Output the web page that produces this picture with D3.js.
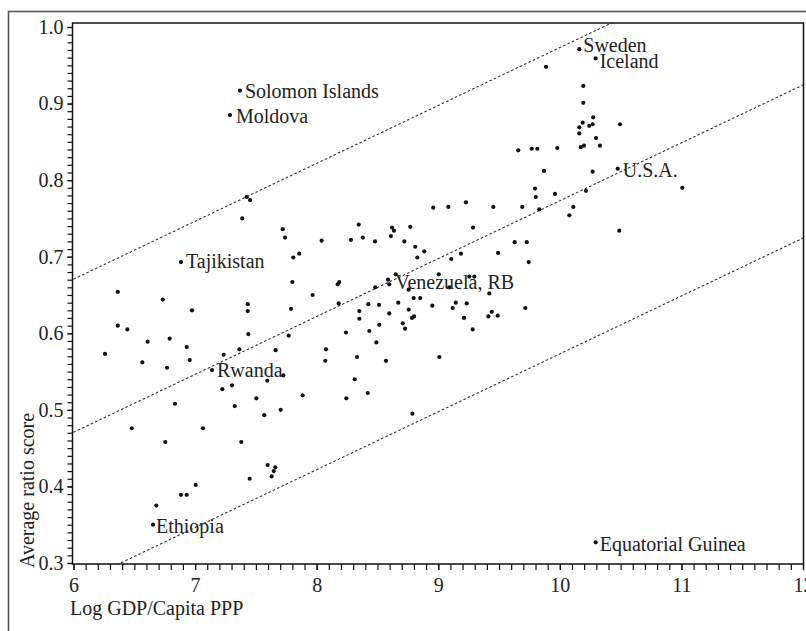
<!DOCTYPE html>
<html>
<head>
<meta charset="utf-8">
<script src="https://cdn.jsdelivr.net/npm/d3@7"></script>
<style>
  html, body { margin: 0; padding: 0; background: #fff; }
  svg { display: block; }
  text { font-family: "Liberation Serif", "DejaVu Serif", serif; fill: #222; }
</style>
</head>
<body>
<svg id="chart" width="806" height="631"></svg>
<script>
// ---- Data ----
const gdp = [
  7.369, 7.287, 7.425, 7.452, 7.388, 6.884, 6.364, 6.734, 6.975, 7.433,
  7.433, 6.364, 6.443, 6.610, 6.791, 7.438, 6.259, 6.931, 6.566, 6.769,
  6.956, 7.235, 7.364, 7.139, 7.224, 7.304, 7.594, 7.504, 6.835, 7.326,
  7.569, 6.479, 7.065, 6.755, 7.380, 7.597, 7.449, 7.005, 6.884, 6.931,
  6.681, 6.654, 7.660, 7.647, 7.630, 7.704, 7.726, 7.885, 8.244, 8.420,
  8.313, 8.787, 7.663, 8.077, 8.071, 8.332, 8.570, 9.009, 7.770, 8.241,
  8.491, 8.433, 8.515, 8.708, 8.727, 9.283, 7.789, 8.351, 8.351, 8.597,
  8.757, 8.784, 8.801, 9.212, 9.440, 9.412, 9.489, 8.181, 8.425, 8.513,
  8.671, 8.951, 9.144, 9.119, 9.234, 9.716, 7.967, 8.798, 8.852, 8.757,
  9.420, 8.482, 9.091, 7.800, 8.173, 8.186, 8.650, 8.587, 8.597, 9.004,
  9.255, 9.297, 7.808, 7.857, 8.828, 9.107, 9.187, 9.492, 8.885, 8.811,
  9.629, 9.728, 9.744, 7.721, 7.740, 8.346, 8.041, 8.282, 8.379, 8.480,
  8.620, 8.636, 8.611, 8.770, 8.721, 9.286, 8.959, 9.083, 9.228, 9.453,
  9.691, 9.658, 9.886, 10.160, 10.295, 10.193, 10.193, 10.188, 10.275, 10.160,
  10.242, 10.270, 10.160, 10.495, 10.298, 10.330, 10.172, 10.199, 9.769, 9.815,
  9.979, 9.870, 10.270, 10.476, 11.007, 9.796, 9.802, 9.960, 10.215, 9.831,
  10.111, 10.078, 10.489, 10.295
];
const score = [
  0.917, 0.885, 0.778, 0.774, 0.750, 0.693, 0.654, 0.644, 0.630, 0.638,
  0.629, 0.610, 0.605, 0.589, 0.593, 0.599, 0.573, 0.582, 0.562, 0.555,
  0.565, 0.572, 0.579, 0.552, 0.527, 0.532, 0.538, 0.515, 0.508, 0.505,
  0.493, 0.476, 0.476, 0.458, 0.458, 0.428, 0.410, 0.402, 0.389, 0.389,
  0.375, 0.350, 0.425, 0.420, 0.413, 0.500, 0.545, 0.519, 0.515, 0.522,
  0.540, 0.495, 0.578, 0.579, 0.564, 0.569, 0.564, 0.569, 0.597, 0.601,
  0.588, 0.603, 0.611, 0.613, 0.606, 0.605, 0.632, 0.629, 0.619, 0.626,
  0.631, 0.620, 0.622, 0.620, 0.628, 0.622, 0.623, 0.639, 0.638, 0.637,
  0.640, 0.636, 0.640, 0.633, 0.639, 0.633, 0.650, 0.646, 0.646, 0.657,
  0.652, 0.660, 0.660, 0.667, 0.664, 0.667, 0.677, 0.670, 0.664, 0.677,
  0.674, 0.674, 0.699, 0.704, 0.699, 0.697, 0.704, 0.705, 0.707, 0.713,
  0.719, 0.719, 0.693, 0.736, 0.725, 0.742, 0.721, 0.722, 0.725, 0.720,
  0.738, 0.734, 0.727, 0.739, 0.720, 0.738, 0.764, 0.765, 0.771, 0.765,
  0.765, 0.839, 0.948, 0.971, 0.959, 0.923, 0.901, 0.875, 0.882, 0.869,
  0.871, 0.873, 0.861, 0.873, 0.855, 0.845, 0.843, 0.845, 0.841, 0.841,
  0.842, 0.812, 0.811, 0.815, 0.790, 0.789, 0.778, 0.782, 0.786, 0.762,
  0.765, 0.754, 0.734, 0.327
];
// Labelled countries
const labelNames = ["Solomon Islands", "Moldova", "Tajikistan", "Rwanda", "Ethiopia",
                    "Venezuela, RB", "Sweden", "Iceland", "U.S.A.", "Equatorial Guinea"];
const labelGdp   = [7.369, 7.287, 6.884, 7.139, 6.654, 8.597, 10.160, 10.295, 10.476, 10.295];
const labelScore = [0.917, 0.885, 0.693, 0.552, 0.350, 0.664, 0.971, 0.959, 0.815, 0.327];

// Fitted line and band (score = a + b * gdp, band = +/- offset)
const fitIntercept = 0.0171;
const fitSlope = 0.0756;
const bandOffsets = [0.2, 0, -0.2];

const xMajor = [6, 7, 8, 9, 10, 11, 12];
const yMajor = [0.3, 0.4, 0.5, 0.6, 0.7, 0.8, 0.9, 1.0];
const xTitle = "Log GDP/Capita PPP";
const yTitle = "Average ratio score";

// ---- Layout / style (label nudges in pixels, kept apart from data) ----
const labelNudge = {
  "Solomon Islands":   [5, 7],
  "Moldova":           [6, 8],
  "Tajikistan":        [5, 6],
  "Rwanda":            [5, 7],
  "Ethiopia":          [3, 8],
  "Venezuela, RB":     [6, 5],
  "Sweden":            [4, 3],
  "Iceland":           [4, 10],
  "U.S.A.":            [5, 8],
  "Equatorial Guinea": [4, 9]
};

// ---- Drawing ----
const svg = d3.select("#chart");
const x = d3.scaleLinear().domain([6, 12]).range([73.5, 803]);
const y = d3.scaleLinear().domain([0.3, 1.0]).range([563, 27]);

const plotL = 72.5, plotR = 803.5, plotT = 23, plotB = 564;

// outer frame
svg.append("rect")
  .attr("x", 8.5).attr("y", 11.5)
  .attr("width", 820).attr("height", 640)
  .attr("fill", "none").attr("stroke", "#555").attr("stroke-width", 1.6);

// clip
svg.append("clipPath").attr("id", "plotclip")
  .append("rect").attr("x", plotL).attr("y", plotT)
  .attr("width", plotR - plotL).attr("height", plotB - plotT);

// band lines
const lineGen = d3.line().x(d => x(d[0])).y(d => y(d[1]));
const plotG = svg.append("g").attr("clip-path", "url(#plotclip)");
bandOffsets.forEach(off => {
  const pts = [5.5, 12.5].map(g => [g, fitIntercept + fitSlope * g + off]);
  plotG.append("path")
    .attr("d", lineGen(pts))
    .attr("fill", "none")
    .attr("stroke", "#333")
    .attr("stroke-width", 1.1)
    .attr("stroke-dasharray", "2.6,2.2");
});

// points
plotG.selectAll("circle.pt")
  .data(d3.range(gdp.length))
  .join("circle")
  .attr("class", "pt")
  .attr("cx", i => x(gdp[i]))
  .attr("cy", i => y(score[i]))
  .attr("r", 2.1)
  .attr("fill", "#111");

// labels
svg.append("g").selectAll("text.lab")
  .data(d3.range(labelNames.length))
  .join("text")
  .attr("class", "lab")
  .attr("x", i => x(labelGdp[i]) + labelNudge[labelNames[i]][0])
  .attr("y", i => y(labelScore[i]) + labelNudge[labelNames[i]][1])
  .attr("font-size", 20)
  .text(i => labelNames[i]);

// plot frame
svg.append("rect")
  .attr("x", plotL).attr("y", plotT)
  .attr("width", plotR - plotL).attr("height", plotB - plotT)
  .attr("fill", "none").attr("stroke", "#111").attr("stroke-width", 1.5);

// axes
const yMinor = d3.range(30, 101).map(v => v / 100);
const xMinor = d3.range(60, 121).map(v => v / 10);

function styleAxis(g) {
  g.select(".domain").remove();
  g.selectAll(".tick line").attr("stroke", "#111").attr("stroke-width", 1.2);
  g.selectAll(".tick text").attr("font-size", 20).attr("fill", "#222")
    .attr("font-family", "Liberation Serif, DejaVu Serif, serif");
}

svg.append("g").attr("transform", `translate(${plotL},0)`)
  .call(d3.axisLeft(y).tickValues(yMinor).tickSize(5).tickFormat(""))
  .call(styleAxis);
svg.append("g").attr("transform", `translate(${plotL},0)`)
  .call(d3.axisLeft(y).tickValues(yMajor).tickSize(5).tickPadding(4).tickFormat(d3.format(".1f")))
  .call(styleAxis);

svg.append("g").attr("transform", `translate(0,${plotB})`)
  .call(d3.axisBottom(x).tickValues(xMinor).tickSize(6).tickFormat(""))
  .call(styleAxis);
svg.append("g").attr("transform", `translate(0,${plotB})`)
  .call(d3.axisBottom(x).tickValues(xMajor).tickSize(6).tickPadding(8).tickFormat(d3.format("d")))
  .call(styleAxis);

// axis titles
svg.append("text")
  .attr("x", 70).attr("y", 615)
  .attr("font-size", 20)
  .text(xTitle);

svg.append("text")
  .attr("transform", "translate(33.5,568) rotate(-90)")
  .attr("font-size", 20)
  .text(yTitle);
</script>
</body>
</html>
